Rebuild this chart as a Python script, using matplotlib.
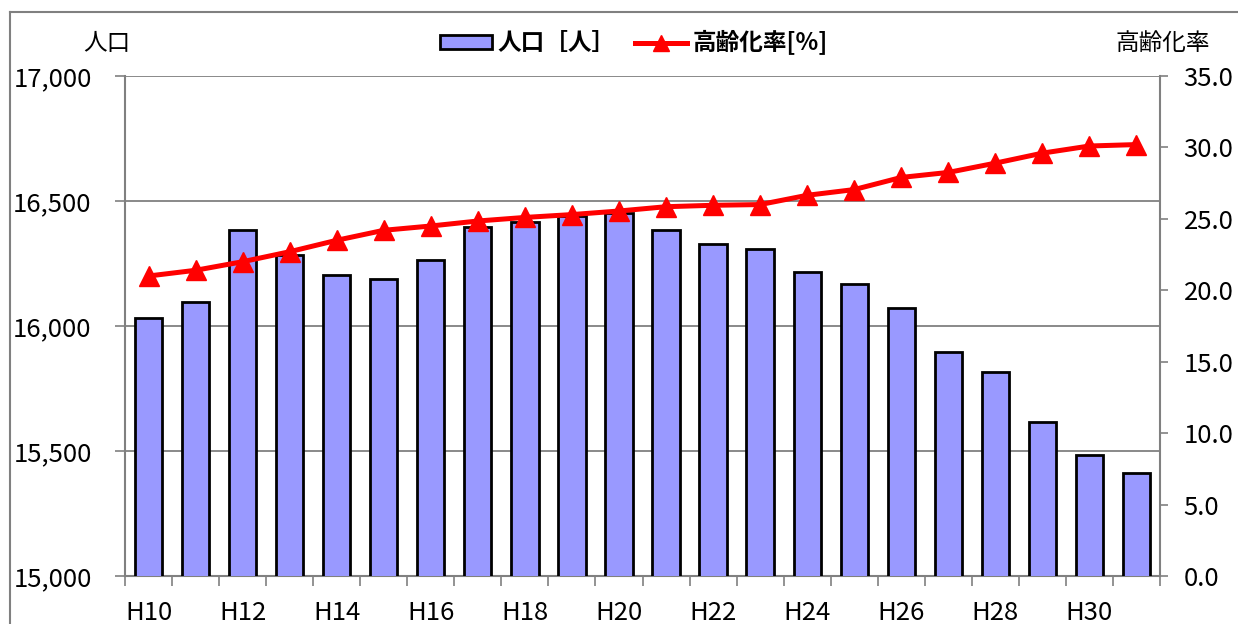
import matplotlib
matplotlib.use("Agg")
import matplotlib.pyplot as plt
from matplotlib.lines import Line2D
from matplotlib.patches import Patch
from matplotlib.ticker import FuncFormatter, FixedLocator

plt.rcParams['font.family'] = ['Noto Sans CJK JP', 'DejaVu Sans']

# データ（H10〜H31）
years = ["H10", "H11", "H12", "H13", "H14", "H15", "H16", "H17", "H18", "H19", "H20",
         "H21", "H22", "H23", "H24", "H25", "H26", "H27", "H28", "H29", "H30", "H31"]
population = [16033, 16095, 16384, 16284, 16204, 16188, 16264, 16395, 16417, 16440, 16453,
              16384, 16328, 16307, 16216, 16168, 16071, 15895, 15815, 15617, 15484, 15411]
aging_rate = [21.0, 21.4, 22.0, 22.7, 23.5, 24.2, 24.5, 24.85, 25.1, 25.3, 25.55,
              25.85, 25.95, 26.0, 26.65, 27.05, 27.9, 28.25, 28.9, 29.6, 30.1, 30.2]

W, H = 1238, 624
fig = plt.figure(figsize=(W / 100, H / 100), dpi=100)
ax = fig.add_axes([125 / W, 1 - 576 / H, (1160 - 125) / W, 500 / H])

x = list(range(len(years)))
gray = '#808080'

ax.bar(x, population, width=0.58, color='#9999FF', edgecolor='black', linewidth=2, zorder=3)
ax.set_ylim(15000, 17000)
ax.set_xlim(-0.5, len(years) - 0.5)
ax.set_yticks(range(15000, 17001, 500))
ax.yaxis.set_major_formatter(FuncFormatter(lambda v, p: f"{int(v):,}"))
ax.yaxis.grid(True, color=gray, linewidth=1.3, zorder=0)
ax.set_axisbelow(True)

# x軸：目盛は区切り位置、ラベルは1つおき
ax.set_xticks(x[::2])
ax.set_xticklabels(years[::2])
ax.xaxis.set_minor_locator(FixedLocator([i - 0.5 for i in range(len(years) + 1)]))
ax.tick_params(axis='x', which='major', length=0, pad=17, labelsize=18.5)
ax.tick_params(axis='x', which='minor', length=7, color=gray, width=1.2)
ax.tick_params(axis='y', length=7, color=gray, width=1.2, pad=17, labelsize=18.5)

for s in ['top', 'right']:
    ax.spines[s].set_visible(False)
ax.spines['left'].set_color(gray)
ax.spines['left'].set_linewidth(1.5)
ax.spines['bottom'].set_color(gray)
ax.spines['bottom'].set_linewidth(1.5)

ax2 = ax.twinx()
ax2.plot(x, aging_rate, color='#FF0000', linewidth=3.6, marker='^', markersize=15, zorder=5)
ax2.set_ylim(0, 35)
ax2.set_yticks([i * 5 for i in range(8)])
ax2.yaxis.set_major_formatter(FuncFormatter(lambda v, p: f"{v:.1f}"))
ax2.tick_params(axis='y', length=6, color=gray, width=1.2, pad=11, labelsize=18.5)
for s in ['top', 'left', 'bottom']:
    ax2.spines[s].set_visible(False)
ax2.spines['right'].set_color(gray)
ax2.spines['right'].set_linewidth(1.5)

fig.text(107 / W, 1 - 43 / H, "人口", ha='center', va='center', fontsize=17)
fig.text(1163 / W, 1 - 43 / H, "高齢化率", ha='center', va='center', fontsize=17)

handles = [Patch(facecolor='#9999FF', edgecolor='black', linewidth=2),
           Line2D([0], [0], color='#FF0000', linewidth=3.6, marker='^', markersize=11)]
fig.legend(handles, ["人口［人］", "高齢化率[%]"], loc='center',
           bbox_to_anchor=(634 / W, 1 - 43 / H), ncol=2, frameon=False,
           prop={'size': 17, 'weight': 'bold'}, handlelength=2.2, handleheight=0.5,
           handletextpad=0.25, columnspacing=0.8)

# 外枠
fig.add_artist(Line2D([10 / W, 10 / W], [0, 1 - 12 / H], color=gray, linewidth=1.5))
fig.add_artist(Line2D([10 / W, 1], [1 - 12 / H, 1 - 12 / H], color=gray, linewidth=1.5))

fig.savefig("out.png", dpi=100)
